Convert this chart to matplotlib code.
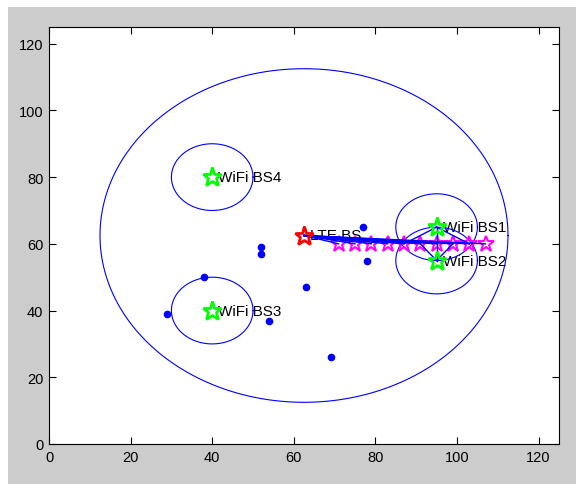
import matplotlib
matplotlib.use("Agg")
import matplotlib.pyplot as plt
import numpy as np
from matplotlib.patches import Rectangle

# ---- data ----
lte_bs = (62.5, 62.5)
lte_radius = 50
wifi_names = ["WiFi BS1", "WiFi BS2", "WiFi BS3", "WiFi BS4"]
wifi_x = [95, 95, 40, 40]
wifi_y = [65, 55, 40, 80]
wifi_radius = 10

# unassociated users (blue dots)
dot_x = [52, 52, 38, 29, 54, 63, 69, 77, 78]
dot_y = [59, 57, 50, 39, 37, 47, 26, 65, 55]

# served users (magenta stars)
user_x = [71, 75, 79, 83, 87, 91, 95, 99, 103, 107]
user_y = [60, 60, 60, 60, 60, 60, 60, 60, 60, 60]

# associations: (users index) -> WiFi BS index
wifi1_users = [4, 6, 8]
wifi2_users = [5, 6, 7]

xlim = (0, 125)
ylim = (0, 125)
ticks = [0, 20, 40, 60, 80, 100, 120]

# ---- figure ----
W, H, DPI = 576, 485, 100
fig = plt.figure(figsize=(W / DPI, H / DPI), dpi=DPI, facecolor="white")
fig.patches.append(Rectangle((8 / W, 0), 1 - 8 / W, 1 - 8 / H,
                             transform=fig.transFigure, facecolor="#cccccc",
                             edgecolor="none", zorder=-10))
ax = fig.add_axes([49 / W, 1 - 445 / H, 510 / W, 417 / H])
ax.set_facecolor("white")

font = ["Liberation Sans", "DejaVu Sans"]
t = np.linspace(0, 2 * np.pi, 400)

# big LTE coverage circle
ax.plot(lte_bs[0] + lte_radius * np.cos(t), lte_bs[1] + lte_radius * np.sin(t),
        color="blue", lw=0.8, zorder=2)
# WiFi circles
for cx, cy in zip(wifi_x, wifi_y):
    ax.plot(cx + wifi_radius * np.cos(t), cy + wifi_radius * np.sin(t),
            color="blue", lw=0.8, zorder=2)

# blue dots
ax.plot(dot_x, dot_y, "o", color="blue", ms=4.5, mec="blue", zorder=3)

# magenta user stars
ax.plot(user_x, user_y, "*", ms=12, mfc="none", mec="magenta", mew=1.5, zorder=3)

# association lines
for ux, uy in zip(user_x, user_y):
    ax.plot([lte_bs[0], ux], [lte_bs[1], uy], color="blue", lw=1.0, zorder=4)
for i in wifi1_users:
    ax.plot([wifi_x[0], user_x[i]], [wifi_y[0], user_y[i]], color="blue", lw=1.0, zorder=4)
for i in wifi2_users:
    ax.plot([wifi_x[1], user_x[i]], [wifi_y[1], user_y[i]], color="blue", lw=1.0, zorder=4)

# base stations
ax.plot(wifi_x, wifi_y, "*", ms=14, mfc="none", mec="#00ff00", mew=2, zorder=5)
ax.plot([lte_bs[0]], [lte_bs[1]], "*", ms=14, mfc="none", mec="red", mew=2, zorder=5)

# labels
for name, x, y in zip(wifi_names, wifi_x, wifi_y):
    ax.text(x + 1.5, y, name, fontsize=11, family=font, va="center", ha="left",
            color="black", zorder=1)
ax.text(lte_bs[0] + 1.5, lte_bs[1], "LTE BS", fontsize=11, family=font,
        va="center", ha="left", color="black", zorder=1)

ax.set_xlim(*xlim)
ax.set_ylim(*ylim)
ax.set_xticks(ticks)
ax.set_yticks(ticks)
ax.tick_params(direction="in", length=5, width=0.8, top=True, right=True,
               labelsize=10.5, pad=4)
for lab in ax.get_xticklabels() + ax.get_yticklabels():
    lab.set_family(font)
for s in ax.spines.values():
    s.set_linewidth(0.8)

fig.savefig("out.png", dpi=DPI, facecolor=fig.get_facecolor())
